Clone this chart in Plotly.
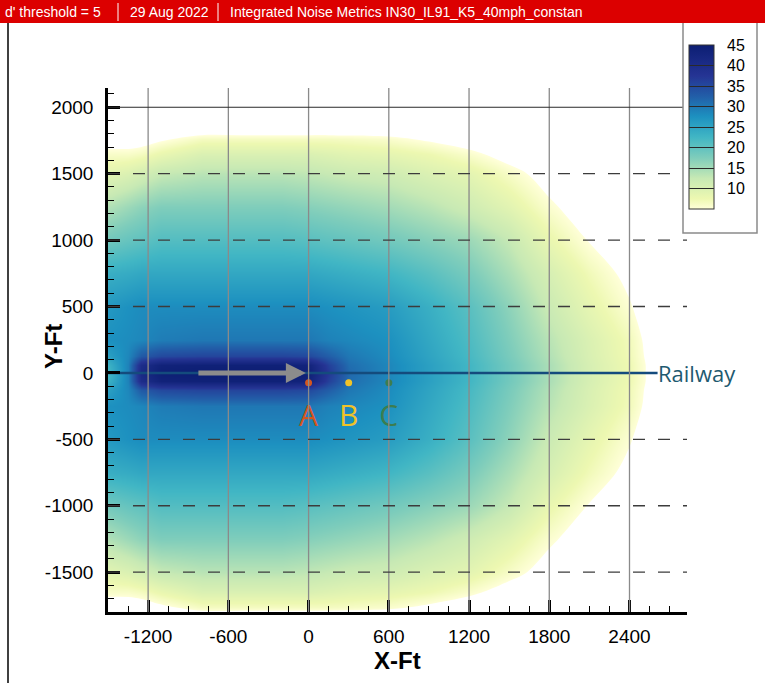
import plotly.graph_objects as go

# ---------------------------------------------------------------------------
# Integrated noise metric on a ground grid around the track (feet)
# ---------------------------------------------------------------------------
x_ft = [-1500, -1350, -1250, -1100, -800, -500, -200, 0, 150, 300, 600, 900,
        1200, 1500, 1800, 2100, 2400, 2600, 2850, 3300]
y_ft_half = [0, 60, 130, 250, 500, 750, 1000, 1250, 1500, 1650, 1760, 1850, 2300]

# metric value for each |y| row (the field is mirrored about the track)
metric_half = [
    [22, 29, 41, 44.5, 45, 45, 45, 44, 37, 31.5, 28.5, 25.5, 22.5, 18.5, 14.5, 10.5, 7.3, 3.5, 1.5, 0],
    [23, 29, 40, 43.5, 44, 44, 44, 43, 36, 31, 28.5, 25.5, 22.5, 18.5, 14.5, 10.5, 7.3, 3.5, 1.5, 0],
    [25.5, 28.5, 33, 35, 35.5, 35.5, 35.5, 35, 32.5, 30, 28, 25, 22, 18, 14, 10.2, 7, 3.3, 1.5, 0],
    [27.5, 28, 28.5, 29.5, 30, 30, 30, 30, 29, 28.5, 27.5, 24.5, 21.5, 17.5, 13.5, 10, 6.8, 3, 1.2, 0],
    [26.5, 27.5, 28, 28, 28, 28, 28, 28, 27.5, 27, 26, 23.5, 20.5, 16.5, 12, 8.5, 5.3, 2.5, 1, 0],
    [23.5, 24, 24.5, 24.5, 24.5, 24.5, 24.5, 24.5, 24, 23.5, 22.5, 20.5, 18, 14.5, 10.5, 7, 4, 2, 0.5, 0],
    [18.5, 19.5, 20, 21, 21, 21, 21, 20.5, 20, 19.5, 18.5, 17, 15.5, 12.5, 8, 4.8, 2.5, 1, 0, 0],
    [14, 15.5, 16.5, 17.5, 17.5, 17.5, 17.5, 17, 16.5, 16, 15, 13.5, 11.5, 9, 5.6, 3, 1, 0, 0, 0],
    [9, 10, 11, 12.5, 13.5, 13.5, 13.5, 13, 12.5, 12, 11.5, 10, 8.8, 6.2, 3.5, 1, 0, 0, 0, 0],
    [6, 6, 6.5, 8, 10, 10, 10, 10, 9.5, 9, 8.5, 7.5, 5.8, 3.5, 1.5, 0, 0, 0, 0, 0],
    [3, 3, 3.3, 4.5, 6.5, 6.5, 6.5, 6.5, 6.5, 6.3, 5.8, 4.5, 3, 1.5, 0, 0, 0, 0, 0, 0],
    [2, 2, 2, 2, 2, 2, 2, 2, 2, 2, 2, 1.5, 1, 0, 0, 0, 0, 0, 0, 0],
    [0, 0, 0, 0, 0, 0, 0, 0, 0, 0, 0, 0, 0, 0, 0, 0, 0, 0, 0, 0],
]

d_threshold = 5
metric_min, metric_max = 5, 45
colorbar_ticks = [10, 15, 20, 25, 30, 35, 40, 45]

x_ticks = [-1200, -600, 0, 600, 1200, 1800, 2400]
y_ticks = [-1500, -1000, -500, 0, 500, 1000, 1500, 2000]
x_range = [-1500, 2830]
y_range = [-1800, 2145]

railway_x = [-1500, 2610]
railway_y = [0, 0]
train_arrow_x = [-835, -20]

receiver_names = ["A", "B", "C"]
receiver_x = [0, 300, 600]
receiver_y = [-75, -75, -75]
receiver_label_y = [-340, -340, -340]
receiver_colors = ["#d4561e", "#f0c328", "#3c7d50"]

header_parts = ["d' threshold = 5", "29 Aug 2022",
                "Integrated Noise Metrics IN30_IL91_K5_40mph_constan"]

# mirror the half field about y = 0
y_full = [-v for v in reversed(y_ft_half[1:])] + y_ft_half
z_full = [row for row in reversed(metric_half[1:])] + metric_half

# yellow-green-blue ramp over 5..45
ylgnbu = [
    [0.0, "rgb(255,255,217)"], [0.0625, "rgb(237,248,177)"],
    [0.1875, "rgb(199,233,180)"], [0.3125, "rgb(127,205,187)"],
    [0.4375, "rgb(65,182,196)"], [0.5625, "rgb(29,145,192)"],
    [0.6875, "rgb(34,94,168)"], [0.8125, "rgb(37,52,148)"],
    [1.0, "rgb(12,30,115)"],
]

# ---------------------------------------------------------------------------
# page geometry helpers (pixels -> paper fractions)
# ---------------------------------------------------------------------------
W, H = 765, 683
ML, MR, MT, MB = 108, 78, 88, 71
PW, PH = W - ML - MR, H - MT - MB


def px(x):
    return (x - ML) / PW


def py(y):
    return (H - MB - y) / PH


AX_FONT = "Liberation Sans, Arial, sans-serif"
LABEL_FONT = "Open Sans, sans-serif"

fig = go.Figure()

fig.add_trace(go.Heatmap(
    x=x_ft, y=y_full, z=z_full,
    zmin=metric_min, zmax=metric_max, zsmooth="best",
    colorscale=ylgnbu, hoverinfo="skip",
    colorbar=dict(
        tickvals=colorbar_ticks,
        ticktext=["\u00a0\u00a0" + str(v) for v in colorbar_ticks],
        ticks="inside", ticklen=25, tickwidth=1, tickcolor="#2a2a2a",
        tickfont=dict(family=AX_FONT, size=16, color="black"),
        thickness=25, thicknessmode="pixels",
        len=210, lenmode="pixels",
        x=px(683), xanchor="left", xpad=6,
        y=py(22), yanchor="top", ypad=23,
        outlinecolor="#333333", outlinewidth=1,
        bgcolor="rgba(0,0,0,0)", borderwidth=0,
    ),
))

# blank out everything below the d' threshold
fig.add_trace(go.Contour(
    x=x_ft, y=y_full, z=z_full,
    contours=dict(type="constraint", operation=">=", value=d_threshold),
    fillcolor="white", line=dict(width=0, color="rgba(0,0,0,0)"),
    showscale=False, hoverinfo="skip",
))

fig.add_trace(go.Scatter(
    x=railway_x, y=railway_y, mode="lines",
    line=dict(color="#144b7d", width=2.5), hoverinfo="skip",
))

fig.add_trace(go.Scatter(
    x=receiver_x, y=receiver_y, mode="markers",
    marker=dict(size=7, color=receiver_colors), hoverinfo="skip",
))

fig.add_trace(go.Scatter(
    x=receiver_x, y=receiver_label_y, mode="text",
    text=receiver_names, textposition="middle center",
    textfont=dict(family=LABEL_FONT, size=30, color=receiver_colors),
    hoverinfo="skip",
))

annotations = [
    # train direction
    dict(x=train_arrow_x[1], y=0, ax=train_arrow_x[0], ay=0,
         xref="x", yref="y", axref="x", ayref="y", text="",
         showarrow=True, arrowhead=2, arrowsize=0.8, arrowwidth=5,
         arrowcolor="#8c8c8c", standoff=0),
    dict(x=railway_x[1], y=0, xref="x", yref="y", text="Railway",
         showarrow=False, xanchor="left", yanchor="middle", xshift=-2,
         font=dict(family=LABEL_FONT, size=22, color="#1e5a70")),
    dict(x=px(397), y=py(660), xref="paper", yref="paper", text="<b>X-Ft</b>",
         showarrow=False, xanchor="center", yanchor="middle",
         font=dict(family=AX_FONT, size=24, color="black")),
    dict(x=px(53), y=py(347), xref="paper", yref="paper", text="<b>Y-Ft</b>",
         textangle=-90, showarrow=False, xanchor="center", yanchor="middle",
         font=dict(family=AX_FONT, size=24, color="black")),
]

# header strip text
header_x = [3, 128, 228]
for txt, hx in zip(header_parts, header_x):
    annotations.append(dict(
        x=px(hx), y=py(12), xref="paper", yref="paper", text=txt,
        showarrow=False, xanchor="left", yanchor="middle",
        font=dict(family=AX_FONT, size=14, color="white")))

shapes = []

# vertical grid at the x ticks (drawn over the field)
for v in x_ticks:
    shapes.append(dict(
        type="line", xref="x", yref="paper", layer="above",
        x0=v, x1=v, y0=0, y1=1,
        line=dict(color="#8a8a8a", width=1.3)))

# horizontal grid: top tick solid, the rest dashed (the track covers y = 0)
for v in y_ticks:
    if v == 0:
        continue
    solid = v == max(y_ticks)
    shapes.append(dict(
        type="line", xref="paper", yref="y", layer="above",
        x0=0, x1=1, y0=v, y1=v,
        line=dict(color="#2a2a2a" if solid else "#3c3c3c",
                  width=1 if solid else 1.4,
                  dash="solid" if solid else "12px,13px")))

shapes += [
    # legend box behind the colour bar
    dict(type="rect", xref="paper", yref="paper", layer="above",
         x0=px(683), x1=px(757), y0=py(233), y1=py(22),
         fillcolor="white", line=dict(color="#8a8a8a", width=1.5)),
    # header strip
    dict(type="rect", xref="paper", yref="paper", layer="above",
         x0=px(0), x1=px(W), y0=py(23), y1=py(0),
         fillcolor="#dc0000", line=dict(width=0)),
    dict(type="line", xref="paper", yref="paper", layer="above",
         x0=px(118), x1=px(118), y0=py(3), y1=py(21),
         line=dict(color="white", width=1)),
    dict(type="line", xref="paper", yref="paper", layer="above",
         x0=px(218), x1=px(218), y0=py(3), y1=py(21),
         line=dict(color="white", width=1)),
    # frame edge on the left
    dict(type="line", xref="paper", yref="paper", layer="above",
         x0=px(8), x1=px(8), y0=py(23), y1=py(H),
         line=dict(color="black", width=1.5)),
]

fig.update_layout(
    width=W, height=H,
    margin=dict(l=ML, r=MR, t=MT, b=MB, pad=0, autoexpand=False),
    paper_bgcolor="white", plot_bgcolor="white",
    showlegend=False,
    annotations=annotations,
    shapes=shapes,
    xaxis=dict(
        range=x_range, tickvals=x_ticks, ticktext=[str(v) for v in x_ticks],
        ticks="inside", ticklen=12, tickwidth=2.5, tickcolor="black",
        minor=dict(dtick=150, ticks="inside", ticklen=6, tickwidth=1.3,
                   tickcolor="black", showgrid=False),
        showline=True, linewidth=2.5, linecolor="black", mirror=False,
        showgrid=False, zeroline=False, layer="above traces",
        tickfont=dict(family=AX_FONT, size=19, color="black"),
        ticklabelstandoff=5,
    ),
    yaxis=dict(
        range=y_range, tickvals=y_ticks, ticktext=[str(v) for v in y_ticks],
        ticks="inside", ticklen=12, tickwidth=2.5, tickcolor="black",
        minor=dict(dtick=100, ticks="inside", ticklen=6, tickwidth=1.3,
                   tickcolor="black", showgrid=False),
        showline=True, linewidth=2.5, linecolor="black", mirror=False,
        showgrid=False, zeroline=False, layer="above traces",
        tickfont=dict(family=AX_FONT, size=19, color="black"),
        ticklabelstandoff=8,
    ),
)

fig.write_html("out.html")
